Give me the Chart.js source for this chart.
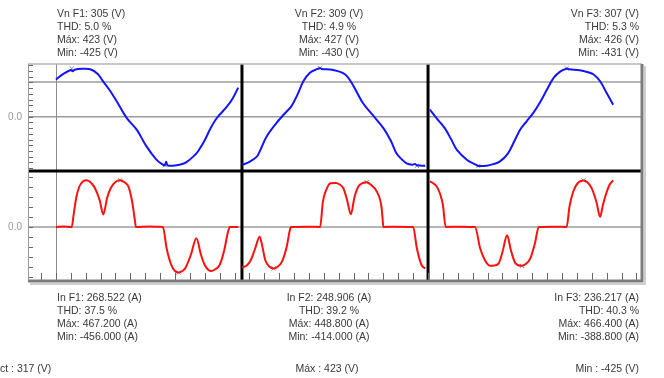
<!DOCTYPE html>
<html>
<head>
<meta charset="utf-8">
<script src="https://cdn.jsdelivr.net/npm/chart.js@4"></script>
<style>
  html, body { margin: 0; padding: 0; background: #fff; }
  #wrap { position: relative; width: 664px; height: 378px; overflow: hidden;
          font-family: Arial, "Liberation Sans", sans-serif; font-size: 10.5px; color: #3a3a3a; }
  canvas { position: absolute; left: 0; top: 0; }
  .lbl { position: absolute; line-height: 13px; white-space: nowrap; }
</style>
</head>
<body>
<div id="wrap">
  <canvas id="scope" width="664" height="378"></canvas>
</div>
<script>
// phase summary values (top = voltage, bottom = current)
const phases = ['F1', 'F2', 'F3'];
const vRms = ['305', '309', '307'];
const vThd = ['5.0', '4.9', '5.3'];
const vMax = [423, 427, 426];
const vMin = [-425, -430, -431];
const iRms = ['268.522', '248.906', '236.217'];
const iThd = ['37.5', '39.2', '40.3'];
const iMax = [467.2, 448.8, 466.4];
const iMin = [-456.0, -414.0, -388.8];
const footer = ['ct : 317 (V)', 'Máx : 423 (V)', 'Min : -425 (V)'];

// time axis in ms, one cycle per phase
const panelEdges = [20, 40];
const refLine = 305;

// voltage waveforms (t ms, V)
const tV1 = [0, 0.8, 1.6, 1.8, 2.0, 2.8, 3.7, 4.5, 5.0, 5.8, 6.5, 7.6, 8.7, 9.7, 10.8, 11.5, 11.7, 11.85, 12.0, 12.6, 13.3, 14.0, 15.0, 15.3, 16.0, 16.6, 17.3, 18.4, 19.0, 19.6];
const v1  = [326, 375, 410, 398, 412, 420, 416, 375, 318, 230, 140, -10, -115, -255, -375, -420, -425, -395, -425, -428, -420, -400, -330, -300, -205, -105, -11, 90, 160, 255];
const tV2 = [20.0, 20.8, 21.6, 21.9, 22.65, 23.7, 24.5, 25.3, 26.0, 26.6, 27.3, 28.0, 28.4, 28.6, 29.5, 30.3, 31.1, 31.8, 33.0, 34.0, 35.2, 36.0, 36.6, 37.2, 37.7, 38.3, 38.6, 38.8, 39.7];
const v2  = [-422, -395, -349, -305, -173, -55, 20, 91, 200, 311, 385, 415, 424, 418, 414, 400, 370, 296, 120, 20, -100, -210, -320, -375, -408, -420, -414, -425, -430];
const tV3 = [40.2, 41.0, 41.8, 42.5, 43.1, 44.2, 45.2, 45.4, 46.3, 47.0, 47.7, 48.6, 49.3, 49.9, 50.6, 51.3, 52.0, 52.8, 53.5, 54.2, 54.9, 55.2, 56.3, 57.2, 57.8, 58.5, 59.2, 59.9];
const v3  = [62, -20, -100, -200, -290, -378, -422, -431, -428, -415, -393, -320, -210, -114, -40, 32, 120, 240, 340, 395, 420, 415, 408, 390, 370, 311, 208, 106];

// current waveforms (t ms, A)
const tI1 = [0, 0.8, 1.7, 1.9, 2.2, 2.5, 2.9, 3.3, 3.8, 4.2, 4.7, 5.1, 5.5, 5.9, 6.4, 6.9, 7.4, 7.8, 8.2, 8.5, 8.6, 10.0, 11.5, 11.9, 12.4, 12.8, 13.2, 13.6, 13.9, 14.5, 15.1, 15.6, 16.0, 16.4, 16.7, 17.1, 17.6, 18.1, 18.5, 18.7, 19.6];
const i1  = [0, 5, 0, 120, 300, 400, 455, 467, 440, 387, 270, 125, 290, 390, 450, 467, 445, 403, 250, 60, 0, 5, 0, -213, -380, -440, -456, -440, -413, -280, -113, -280, -380, -430, -440, -425, -380, -230, -47, 0, 0];
const tI2 = [20.0, 20.5, 20.9, 21.4, 21.9, 22.2, 22.5, 23.0, 23.4, 23.8, 24.3, 24.8, 25.2, 25.3, 27.0, 28.4, 28.7, 29.1, 29.5, 30.1, 30.5, 30.9, 31.3, 31.7, 32.1, 32.5, 33.0, 33.4, 33.9, 34.5, 35.0, 35.1, 35.2, 36.5, 38.4, 38.8, 39.3, 39.7];
const i2  = [-405, -385, -340, -220, -97, -200, -330, -400, -414, -400, -347, -200, -13, 0, 3, 0, 253, 380, 437, 440, 425, 387, 270, 127, 300, 403, 440, 448, 420, 353, 200, 100, 0, 3, 0, -213, -380, -414];
const tI3 = [40.2, 40.5, 40.9, 41.3, 41.6, 41.9, 43.5, 45.05, 45.6, 46.1, 46.7, 47.1, 47.6, 48.0, 48.5, 48.9, 49.4, 50.1, 50.5, 51.0, 51.5, 51.9, 53.5, 54.9, 55.2, 55.6, 56.1, 56.7, 57.1, 57.6, 58.1, 58.5, 58.8, 59.1, 59.5, 59.9];
const i3  = [455, 440, 410, 330, 220, 0, 3, 0, -213, -330, -388, -385, -363, -250, -83, -230, -363, -388, -370, -313, -160, 0, 3, 0, 200, 353, 440, 466, 450, 387, 250, 103, 220, 320, 420, 466];

// where the max / min markers sit (t ms)
const vMaxT = [1.7, 28.4, 54.9];
const vMinT = [11.7, 38.8, 45.4];
const iMaxT = [6.9, 33.4, 56.7];
const iMinT = [13.2, 23.4, 50.1];

function pts(ts, vs) {
  return ts.map((t, i) => ({ x: t, y: vs[i] }));
}

function wave(ts, vs, axis, color, smooth) {
  const ds = {
    data: pts(ts, vs),
    yAxisID: axis,
    borderColor: color,
    borderWidth: 2,
    pointRadius: 0,
    fill: false
  };
  if (smooth) ds.tension = 0.35;
  else ds.cubicInterpolationMode = 'monotone';
  return ds;
}

function marks(ts, vs, axis) {
  return {
    data: pts(ts, vs),
    yAxisID: axis,
    showLine: false,
    pointStyle: 'crossRot',
    pointRadius: 3,
    pointBorderColor: '#8a8a8a',
    pointBorderWidth: 1
  };
}

// text blocks
const wrap = document.getElementById('wrap');
function addLabel(lines, top, i) {
  const d = document.createElement('div');
  d.className = 'lbl';
  d.style.top = top + 'px';
  if (i === 0) { d.style.left = '57px'; }
  else if (i === 1) { d.style.left = '229px'; d.style.width = '200px'; d.style.textAlign = 'center'; }
  else { d.style.right = '25px'; d.style.textAlign = 'right'; }
  d.innerHTML = lines.join('<br>');
  wrap.appendChild(d);
}
phases.forEach((p, i) => {
  addLabel([`Vn ${p}: ${vRms[i]} (V)`, `THD: ${vThd[i]} %`, `Máx: ${vMax[i]} (V)`, `Min: ${vMin[i]} (V)`], 7, i);
  addLabel([`In ${p}: ${iRms[i]} (A)`, `THD: ${iThd[i]} %`, `Máx: ${iMax[i].toFixed(3)} (A)`, `Min: ${iMin[i].toFixed(3)} (A)`], 291, i);
});
footer.forEach((txt, i) => {
  const d = document.createElement('div');
  d.className = 'lbl';
  d.style.top = '362px';
  if (i === 0) d.style.left = '0px';
  else if (i === 1) { d.style.left = '227px'; d.style.width = '200px'; d.style.textAlign = 'center'; }
  else { d.style.right = '25px'; }
  d.textContent = txt;
  wrap.appendChild(d);
});

// grid, separators, frame and inward tick marks
const scopeFrame = {
  id: 'scopeFrame',
  beforeDatasetsDraw(chart) {
    const { ctx, chartArea: a, scales } = chart;
    const { x, yv, yi } = scales;
    ctx.save();
    ctx.strokeStyle = '#9c9c9c';
    ctx.lineWidth = 1.5;
    [[yv, 0], [yv, refLine], [yi, 0]].forEach(([s, v]) => {
      const y = s.getPixelForValue(v);
      ctx.beginPath(); ctx.moveTo(a.left, y); ctx.lineTo(a.right, y); ctx.stroke();
    });
    const x0 = Math.round(x.getPixelForValue(0)) + 0.5;
    ctx.strokeStyle = '#8c8c8c';
    ctx.lineWidth = 1;
    ctx.beginPath(); ctx.moveTo(x0, a.top); ctx.lineTo(x0, a.bottom - 8); ctx.stroke();

    ctx.strokeStyle = '#000';
    ctx.lineWidth = 3;
    panelEdges.forEach(t => {
      const px = x.getPixelForValue(t);
      ctx.beginPath(); ctx.moveTo(px, a.top); ctx.lineTo(px, a.bottom); ctx.stroke();
    });
    ctx.beginPath(); ctx.moveTo(a.left, yv.bottom); ctx.lineTo(a.right, yv.bottom); ctx.stroke();
    ctx.restore();
  },
  afterDraw(chart) {
    const { ctx, chartArea: a, scales } = chart;
    const { x, yv, yi } = scales;
    ctx.save();
    ctx.strokeStyle = '#666';
    ctx.lineWidth = 1;
    for (let v = -450; v <= 450; v += 50) {
      const y = Math.round(yv.getPixelForValue(v)) + 0.5;
      ctx.beginPath(); ctx.moveTo(a.left, y); ctx.lineTo(a.left + 5, y); ctx.stroke();
    }
    for (let v = -500; v <= 500; v += 100) {
      const y = Math.round(yi.getPixelForValue(v)) + 0.5;
      ctx.beginPath(); ctx.moveTo(a.left, y); ctx.lineTo(a.left + 5, y); ctx.stroke();
    }
    for (let t = -1.6; t < x.max; t += 1.6) {
      const px = Math.round(x.getPixelForValue(t)) + 0.5;
      ctx.beginPath(); ctx.moveTo(px, a.bottom); ctx.lineTo(px, a.bottom - 8); ctx.stroke();
    }
    // frame
    ctx.strokeStyle = '#b4b4b4';
    ctx.lineWidth = 1.5;
    ctx.beginPath(); ctx.moveTo(a.left, a.top); ctx.lineTo(a.right, a.top); ctx.stroke();
    ctx.strokeStyle = '#999';
    ctx.lineWidth = 1;
    ctx.beginPath(); ctx.moveTo(a.left + 0.5, a.top); ctx.lineTo(a.left + 0.5, a.bottom); ctx.stroke();
    ctx.strokeStyle = '#cfcfcf';
    ctx.lineWidth = 2;
    ctx.beginPath(); ctx.moveTo(a.right + 3, a.top + 2); ctx.lineTo(a.right + 3, a.bottom + 3); ctx.lineTo(a.left + 2, a.bottom + 3); ctx.stroke();
    ctx.strokeStyle = '#7c7c7c';
    ctx.lineWidth = 3;
    ctx.beginPath(); ctx.moveTo(a.right, a.top); ctx.lineTo(a.right, a.bottom); ctx.lineTo(a.left, a.bottom); ctx.stroke();
    ctx.restore();
  }
};

const yCommon = {
  type: 'linear',
  position: 'left',
  stack: 'scope',
  grid: { display: false, drawTicks: false },
  border: { display: false },
  afterBuildTicks: s => { s.ticks = [{ value: 0 }]; },
  afterFit: s => { s.width = 28; },
  ticks: { callback: v => (v === 0 ? '0.0' : ''), color: '#9a9a9a', font: { size: 10, family: 'Arial' }, padding: 6 }
};

new Chart(document.getElementById('scope'), {
  type: 'line',
  data: {
    datasets: [
      wave(tV1, v1, 'yv', '#1414ff', true),
      wave(tV2, v2, 'yv', '#1414ff', true),
      wave(tV3, v3, 'yv', '#1414ff', true),
      wave(tI1, i1, 'yi', '#ff1010', false),
      wave(tI2, i2, 'yi', '#ff1010', false),
      wave(tI3, i3, 'yi', '#ff1010', false),
      marks(vMaxT.concat(vMinT), vMax.concat(vMin), 'yv'),
      marks(iMaxT.concat(iMinT), iMax.concat(iMin), 'yi')
    ]
  },
  options: {
    responsive: false,
    animation: false,
    layout: { padding: { top: 64, right: 22, bottom: 97, left: 0 } },
    plugins: { legend: { display: false }, tooltip: { enabled: false } },
    scales: {
      x: { type: 'linear', min: -3, max: 63, display: false },
      yi: Object.assign({}, yCommon, { stackWeight: 110, min: -540, max: 560 }),
      yv: Object.assign({}, yCommon, { stackWeight: 107, min: -475, max: 462 })
    }
  },
  plugins: [scopeFrame]
});
</script>
</body>
</html>
